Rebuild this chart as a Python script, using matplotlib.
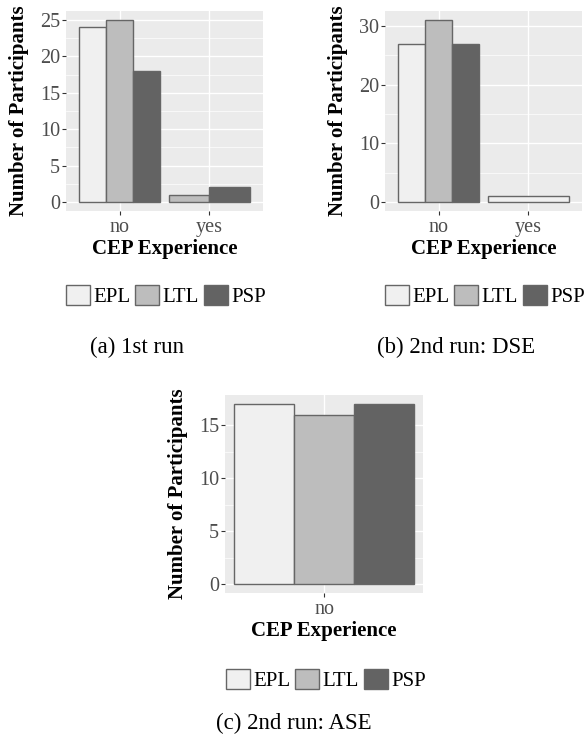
import numpy as np
import matplotlib
matplotlib.use("Agg")
import matplotlib.pyplot as plt
from matplotlib.patches import Patch

plt.rcParams['font.family'] = ['Liberation Serif', 'DejaVu Serif']

# data
groups = ['EPL', 'LTL', 'PSP']
colors = ['#F0F0F0', '#BDBDBD', '#636363']

cats_run1 = ['no', 'yes']
run1_no = [24, 25, 18]
run1_yes = [np.nan, 1, 2]

cats_dse = ['no', 'yes']
dse_no = [27, 31, 27]
dse_yes = [1, np.nan, np.nan]

cats_ase = ['no']
ase_no = [17, 16, 17]

W, H = 588, 744
fig = plt.figure(figsize=(W / 100, H / 100), dpi=100)


def px_axes(left, top, right, bottom):
    return fig.add_axes([left / W, 1 - bottom / H, (right - left) / W, (bottom - top) / H])


def draw_panel(ax, cats, values, yticks, xlim):
    ax.set_facecolor('#EBEBEB')
    for i, vals in enumerate(values):
        present = [j for j, v in enumerate(vals) if not np.isnan(v)]
        w = 0.9 / len(present)
        for k, j in enumerate(present):
            x0 = i + 1 - 0.45 + k * w
            ax.bar(x0, vals[j], width=w, align='edge', color=colors[j],
                   edgecolor='#666666', linewidth=1.0, zorder=3)
    ymax = np.nanmax(np.array(values, dtype=float))
    ax.set_ylim(-0.05 * ymax, 1.05 * ymax)
    ax.set_xlim(*xlim)
    ax.set_yticks(yticks)
    step = yticks[1] - yticks[0]
    ax.set_yticks(np.array(yticks[:-1]) + step / 2, minor=True)
    ax.set_xticks(range(1, len(cats) + 1))
    ax.set_xticklabels(cats)
    ax.grid(which='major', color='white', linewidth=1.0, zorder=0)
    ax.grid(which='minor', axis='y', color='white', linewidth=0.5, zorder=0)
    ax.set_axisbelow(True)
    for s in ax.spines.values():
        s.set_visible(False)
    ax.tick_params(which='major', length=2.8, width=0.8, color='#333333',
                   labelsize=14.5, labelcolor='#4D4D4D', pad=1.5)
    ax.tick_params(axis='x', pad=2.5)
    ax.tick_params(which='minor', length=0)
    ax.set_ylabel('Number of Participants', fontsize=15, fontweight='bold', labelpad=8)
    ax.set_xlabel('CEP Experience', fontsize=15, fontweight='bold', labelpad=1.5)


def add_legend(cx, cy):
    handles = [Patch(facecolor=c, edgecolor='#666666', linewidth=1.0) for c in colors]
    fig.legend(handles, groups, loc='center', bbox_to_anchor=(cx / W, 1 - cy / H),
               ncol=3, frameon=False, fontsize=15, handlelength=1.15, handleheight=1.15,
               handletextpad=0.15, columnspacing=0.25, borderpad=0)


ax_a = px_axes(66, 11, 263, 211)
draw_panel(ax_a, cats_run1, [run1_no, run1_yes], [0, 5, 10, 15, 20, 25], (0.4, 2.6))
add_legend(166, 296)
fig.text(137 / W, 1 - 347 / H, '(a) 1st run', ha='center', va='center', fontsize=16.5)

ax_b = px_axes(385, 11, 582, 211)
draw_panel(ax_b, cats_dse, [dse_no, dse_yes], [0, 10, 20, 30], (0.4, 2.6))
add_legend(485, 296)
fig.text(456 / W, 1 - 347 / H, '(b) 2nd run: DSE', ha='center', va='center', fontsize=16.5)

ax_c = px_axes(225, 395, 423, 593)
draw_panel(ax_c, cats_ase, [ase_no], [0, 5, 10, 15], (0.505, 1.495))
add_legend(326, 680)
fig.text(294 / W, 1 - 723 / H, '(c) 2nd run: ASE', ha='center', va='center', fontsize=16.5)

fig.savefig('out.png', dpi=100)
